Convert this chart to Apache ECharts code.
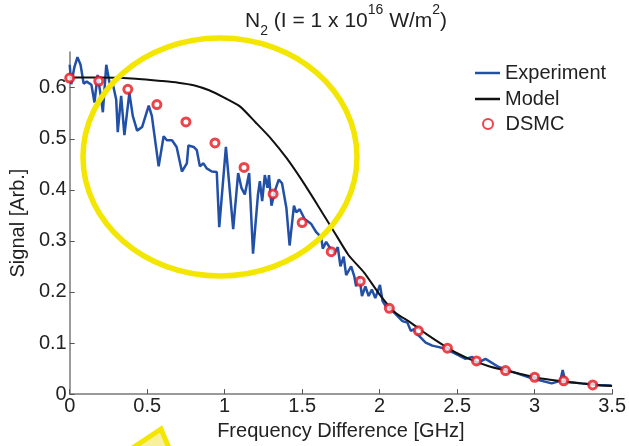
<!DOCTYPE html>
<html>
<head>
<meta charset="utf-8">
<script src="https://cdn.jsdelivr.net/npm/echarts@6/dist/echarts.min.js"></script>
<style>
html,body{margin:0;padding:0;background:#fff;}
#chart{width:629px;height:446px;}
</style>
</head>
<body>
<div id="chart"></div>
<script>
// Experiment trace
const expFreq = [0.000,0.010,0.030,0.050,0.070,0.090,0.110,0.140,0.160,0.180,0.200,0.214,0.236,0.257,0.280,0.300,0.310,0.332,0.353,0.385,0.407,0.435,0.467,0.510,0.530,0.574,0.606,0.627,0.660,0.690,0.724,0.756,0.766,0.800,0.820,0.840,0.863,0.884,0.917,0.949,0.965,1.008,1.055,1.087,1.108,1.130,1.158,1.183,1.215,1.227,1.242,1.259,1.276,1.286,1.302,1.323,1.349,1.370,1.398,1.419,1.447,1.462,1.484,1.516,1.559,1.591,1.623,1.633,1.655,1.676,1.708,1.730,1.747,1.768,1.784,1.816,1.837,1.848,1.869,1.886,1.908,1.929,1.950,1.972,2.002,2.019,2.040,2.068,2.105,2.147,2.179,2.201,2.222,2.254,2.297,2.340,2.383,2.426,2.468,2.511,2.554,2.597,2.627,2.683,2.768,2.854,2.982,3.110,3.166,3.181,3.198,3.303,3.410,3.496];
const expSignal = [0.645,0.607,0.640,0.660,0.645,0.608,0.612,0.606,0.571,0.625,0.585,0.552,0.645,0.610,0.605,0.577,0.513,0.584,0.507,0.590,0.545,0.516,0.523,0.565,0.545,0.446,0.505,0.497,0.497,0.484,0.436,0.452,0.487,0.484,0.478,0.446,0.452,0.442,0.436,0.435,0.327,0.484,0.323,0.433,0.404,0.391,0.433,0.275,0.391,0.417,0.378,0.429,0.404,0.429,0.369,0.397,0.420,0.413,0.365,0.291,0.369,0.356,0.362,0.343,0.333,0.317,0.307,0.285,0.298,0.288,0.275,0.288,0.250,0.269,0.233,0.250,0.230,0.211,0.230,0.192,0.211,0.192,0.205,0.188,0.214,0.182,0.172,0.167,0.156,0.143,0.140,0.124,0.127,0.114,0.101,0.095,0.092,0.089,0.082,0.076,0.069,0.073,0.060,0.069,0.053,0.044,0.031,0.021,0.026,0.047,0.024,0.021,0.018,0.017];
// Model curve
const modelFreq = [0,0.2,0.4,0.6,0.7,0.8,0.9,1.0,1.1,1.2,1.3,1.4,1.5,1.6,1.7,1.8,1.9,2.0,2.1,2.2,2.3,2.4,2.5,2.6,2.7,2.8,2.9,3.0,3.1,3.2,3.3,3.4,3.5];
const modelSignal = [0.620,0.620,0.618,0.613,0.610,0.605,0.595,0.580,0.563,0.532,0.500,0.462,0.418,0.370,0.321,0.272,0.238,0.195,0.160,0.140,0.118,0.098,0.080,0.066,0.055,0.047,0.040,0.033,0.028,0.024,0.021,0.018,0.016];
// DSMC points
const dsmcFreq = [0,0.1875,0.375,0.5625,0.75,0.9375,1.125,1.3125,1.5,1.6875,1.875,2.0625,2.25,2.4375,2.625,2.8125,3.0,3.1875,3.375];
const dsmcSignal = [0.619,0.613,0.597,0.567,0.533,0.492,0.444,0.392,0.336,0.279,0.221,0.168,0.124,0.090,0.065,0.046,0.033,0.026,0.018];
// Ticks
const xTicks = [0,0.5,1,1.5,2,2.5,3,3.5];
const yTicks = [0,0.1,0.2,0.3,0.4,0.5,0.6];

const zip = (a,b)=>a.map((v,i)=>[v,b[i]]);
const FONT = 'Liberation Sans, Arial, sans-serif';

const chart = echarts.init(document.getElementById('chart'), null, {renderer:'canvas'});
chart.setOption({
  animation:false,
  backgroundColor:'#fff',
  textStyle:{fontFamily:FONT},
  title:{
    text:'N{sub|2} (I = 1 x 10{sup|16} W/m{sup|2})',
    left:240, top:2,
    textStyle:{
      fontFamily:FONT, fontSize:21, fontWeight:'normal', color:'#222', lineHeight:28,
      rich:{
        sub:{fontSize:14, fontFamily:FONT, color:'#222', verticalAlign:'bottom', lineHeight:24, padding:[0,0,-3,0]},
        sup:{fontSize:14, fontFamily:FONT, color:'#222', verticalAlign:'top', lineHeight:24, padding:[-4,0,0,0]}
      }
    }
  },
  legend:[
    {
      orient:'vertical', left:470, top:57.5,
      itemWidth:25, itemHeight:2.5, itemGap:5,
      icon:'rect',
      textStyle:{fontFamily:FONT, fontSize:20, color:'#222', lineHeight:21},
      data:['Experiment','Model']
    },
    {
      orient:'vertical', left:477, top:108.5,
      itemWidth:25, itemHeight:10, itemGap:5,
      textStyle:{fontFamily:FONT, fontSize:20, color:'#222', lineHeight:21},
      data:['DSMC']
    }
  ],
  grid:{left:69, top:52, width:545, height:347.3, containLabel:false},
  xAxis:{
    type:'value', min:0, max:3.5, interval:0.5,
    name:'Frequency Difference [GHz]', nameLocation:'middle', nameGap:22,
    nameTextStyle:{fontFamily:FONT, fontSize:20, color:'#222'},
    axisLine:{show:true, onZero:false, lineStyle:{color:'#7a7a7a', width:1.5}},
    axisTick:{show:true, inside:true, length:5, lineStyle:{color:'#555', width:1}},
    axisLabel:{fontFamily:FONT, fontSize:20, color:'#222', margin:2},
    splitLine:{show:false}
  },
  yAxis:{
    type:'value', min:0, max:0.67, interval:0.1,
    name:'Signal [Arb.]', nameLocation:'middle', nameGap:33,
    nameTextStyle:{fontFamily:FONT, fontSize:20, color:'#222'},
    axisLine:{show:true, lineStyle:{color:'#7a7a7a', width:1.5}},
    axisTick:{show:true, inside:true, length:5, lineStyle:{color:'#555', width:1}},
    axisLabel:{fontFamily:FONT, fontSize:20, color:'#222', margin:3, showMaxLabel:false,
      formatter:(v)=> yTicks.some(t=>Math.abs(t-v)<1e-9) ? String(+v.toFixed(1)) : ''},
    splitLine:{show:false}
  },
  series:[
    {name:'Experiment', type:'line', symbol:'none', data:zip(expFreq,expSignal),
      lineStyle:{color:'#2150a6', width:2.5}, itemStyle:{color:'#2150a6'}, z:2},
    {name:'Model', type:'line', symbol:'none', smooth:0.2, data:zip(modelFreq,modelSignal),
      lineStyle:{color:'#111', width:2}, itemStyle:{color:'#111'}, z:3},
    {name:'DSMC', type:'scatter', symbol:'circle', symbolSize:8, data:zip(dsmcFreq,dsmcSignal),
      itemStyle:{color:'#fff', borderColor:'#e8141e', borderWidth:3}, z:4}
  ],
  graphic:[
    {type:'ellipse', shape:{cx:220, cy:157, rx:137, ry:119}, z:10,
      style:{fill:'none', stroke:'#f3e600', lineWidth:5.5}},
    {type:'polygon', shape:{points:[[161,429],[122,455],[172,455]]}, z:10,
      style:{fill:'#f8f09c', stroke:'#f3e600', lineWidth:5, lineJoin:'miter'}}
  ]
});
</script>
</body>
</html>
